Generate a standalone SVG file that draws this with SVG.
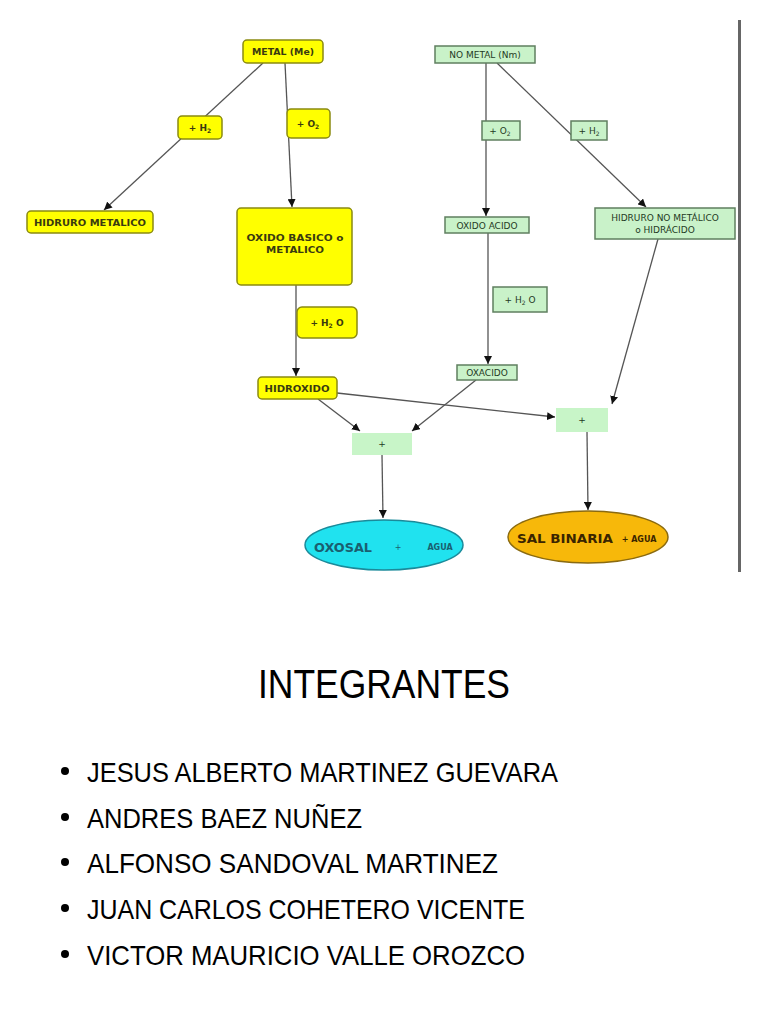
<svg xmlns="http://www.w3.org/2000/svg" width="768" height="1024" viewBox="0 0 768 1024">
<defs>
<marker id="ah" markerWidth="8" markerHeight="8" refX="8" refY="4" orient="auto" markerUnits="userSpaceOnUse">
<path d="M0,0 L8,4 L0,8 z" fill="#111"/>
</marker>
<style>
.y{fill:#ffff00;stroke:#8a8a10;stroke-width:1.5}
.g{fill:#c9f2c9;stroke:#5f7f5f;stroke-width:1.5}
.p{fill:#c8f5c8;stroke:none}
.t{font-family:"DejaVu Sans",Verdana,sans-serif;font-size:9px;font-weight:bold;fill:#3a3a10;text-anchor:middle}
.tg{font-family:"DejaVu Sans",Verdana,sans-serif;font-size:9px;fill:#1f3a1f;text-anchor:middle}
.c{fill:none;stroke:#555;stroke-width:1.3;marker-end:url(#ah)}
.b{font-family:"Liberation Sans",Arial,sans-serif;font-size:28px;fill:#000}
</style>
</defs>
<rect width="768" height="1024" fill="#fff"/>
<line x1="739.5" y1="20" x2="739.5" y2="572" stroke="#666" stroke-width="3"/>
<g id="connectors">
<path class="c" d="M263,63 L104,210"/>
<path class="c" d="M285,63 L292,207"/>
<path class="c" d="M296,285 L296,376"/>
<path class="c" d="M486,63 L486,216"/>
<path class="c" d="M497,63 L646,207"/>
<path class="c" d="M488,233 L488,364"/>
<path class="c" d="M318,399 L360,431"/>
<path class="c" d="M476,380 L412,431"/>
<path class="c" d="M337,393 L555,417"/>
<path class="c" d="M658,239 L612,404"/>
<path class="c" d="M382,455 L383,518"/>
<path class="c" d="M587,432 L588,510"/>
</g>
<g id="metal"><rect class="y" x="243" y="40" width="80" height="23" rx="4"/><text class="t" x="283" y="55" textLength="62" lengthAdjust="spacingAndGlyphs">METAL (Me)</text></g>
<g id="lbl-h2-y"><rect class="y" x="178" y="116" width="44" height="23" rx="4"/><text class="t" x="200" y="131">+ H<tspan font-size="6" dy="2">2</tspan></text></g>
<g id="lbl-o2-y"><rect class="y" x="287" y="109" width="43" height="29" rx="4"/><text class="t" x="308" y="127">+ O<tspan font-size="6" dy="2">2</tspan></text></g>
<g id="hidruro-metalico"><rect class="y" x="27" y="211" width="126" height="22" rx="4"/><text class="t" x="90" y="226" textLength="112" lengthAdjust="spacingAndGlyphs">HIDRURO METALICO</text></g>
<g id="oxido-basico"><rect class="y" x="237" y="208" width="115" height="77" rx="4"/><text class="t" x="295" y="241" textLength="97" lengthAdjust="spacingAndGlyphs">OXIDO BASICO o</text><text class="t" x="295" y="253" textLength="58" lengthAdjust="spacingAndGlyphs">METALICO</text></g>
<g id="lbl-h2o-y"><rect class="y" x="297" y="307" width="60" height="31" rx="5"/><text class="t" x="327" y="326">+ H<tspan font-size="6" dy="2">2</tspan><tspan dy="-2"> O</tspan></text></g>
<g id="hidroxido"><rect class="y" x="258" y="377" width="79" height="22" rx="4"/><text class="t" x="297" y="392" textLength="65" lengthAdjust="spacingAndGlyphs">HIDROXIDO</text></g>
<g id="no-metal"><rect class="g" x="435" y="46" width="100" height="17"/><text class="tg" x="485" y="58">NO METAL (Nm)</text></g>
<g id="lbl-o2-g"><rect class="g" x="482" y="121" width="38" height="19"/><text class="tg" x="500" y="134">+ O<tspan font-size="6" dy="2">2</tspan></text></g>
<g id="lbl-h2-g"><rect class="g" x="571" y="121" width="36" height="19"/><text class="tg" x="589" y="134">+ H<tspan font-size="6" dy="2">2</tspan></text></g>
<g id="oxido-acido"><rect class="g" x="445" y="217" width="84" height="16"/><text class="tg" x="487" y="229">OXIDO ACIDO</text></g>
<g id="lbl-h2o-g"><rect class="g" x="493" y="287" width="54" height="25"/><text class="tg" x="520" y="303">+ H<tspan font-size="6" dy="2">2</tspan><tspan dy="-2"> O</tspan></text></g>
<g id="oxacido"><rect class="g" x="457" y="365" width="60" height="15"/><text class="tg" x="487" y="376">OXACIDO</text></g>
<g id="hidruro-no-metalico"><rect class="g" x="595" y="208" width="140" height="31"/><text class="tg" x="665" y="221">HIDRURO NO METÁLICO</text><text class="tg" x="665" y="233">o HIDRÁCIDO</text></g>
<g id="plus1"><rect class="p" x="352" y="433" width="60" height="22"/><text class="tg" x="382" y="447">+</text></g>
<g id="plus2"><rect class="p" x="556" y="408" width="52" height="24"/><text class="tg" x="582" y="423">+</text></g>
<g id="oxosal"><ellipse cx="384" cy="545" rx="79" ry="25" fill="#20e2ef" stroke="#1a8a9a" stroke-width="1.5"/><text x="343" y="552" font-family="DejaVu Sans,Verdana,sans-serif" font-size="12" font-weight="bold" fill="#1a5f70" text-anchor="middle" textLength="58" lengthAdjust="spacingAndGlyphs">OXOSAL</text><text x="398" y="550" font-family="DejaVu Sans,Verdana,sans-serif" font-size="8" fill="#1a5f70" text-anchor="middle">+</text><text x="440" y="550" font-family="DejaVu Sans,Verdana,sans-serif" font-size="8" font-weight="bold" fill="#1a5f70" text-anchor="middle">AGUA</text></g>
<g id="sal-binaria"><ellipse cx="588" cy="537" rx="80" ry="26" fill="#f7b80a" stroke="#8a6a10" stroke-width="1.5"/><text x="565" y="543" font-family="DejaVu Sans,Verdana,sans-serif" font-size="12" font-weight="bold" fill="#3a2500" text-anchor="middle" textLength="96" lengthAdjust="spacingAndGlyphs">SAL BINARIA</text><text x="639" y="542" font-family="DejaVu Sans,Verdana,sans-serif" font-size="8" font-weight="bold" fill="#3a2500" text-anchor="middle">+ AGUA</text></g>
<g id="integrantes">
<text x="384" y="698" font-family="Liberation Sans,Arial,sans-serif" font-size="40" text-anchor="middle" textLength="252" lengthAdjust="spacingAndGlyphs">INTEGRANTES</text>
<circle cx="65" cy="771" r="4"/><text class="b" x="87" y="782" textLength="471" lengthAdjust="spacingAndGlyphs">JESUS ALBERTO MARTINEZ GUEVARA</text>
<circle cx="65" cy="817" r="4"/><text class="b" x="87" y="828" textLength="275" lengthAdjust="spacingAndGlyphs">ANDRES BAEZ NUÑEZ</text>
<circle cx="65" cy="862" r="4"/><text class="b" x="87" y="873" textLength="411" lengthAdjust="spacingAndGlyphs">ALFONSO SANDOVAL MARTINEZ</text>
<circle cx="65" cy="908" r="4"/><text class="b" x="87" y="919" textLength="438" lengthAdjust="spacingAndGlyphs">JUAN CARLOS COHETERO VICENTE</text>
<circle cx="65" cy="954" r="4"/><text class="b" x="87" y="965" textLength="438" lengthAdjust="spacingAndGlyphs">VICTOR MAURICIO VALLE OROZCO</text>
</g>
</svg>
